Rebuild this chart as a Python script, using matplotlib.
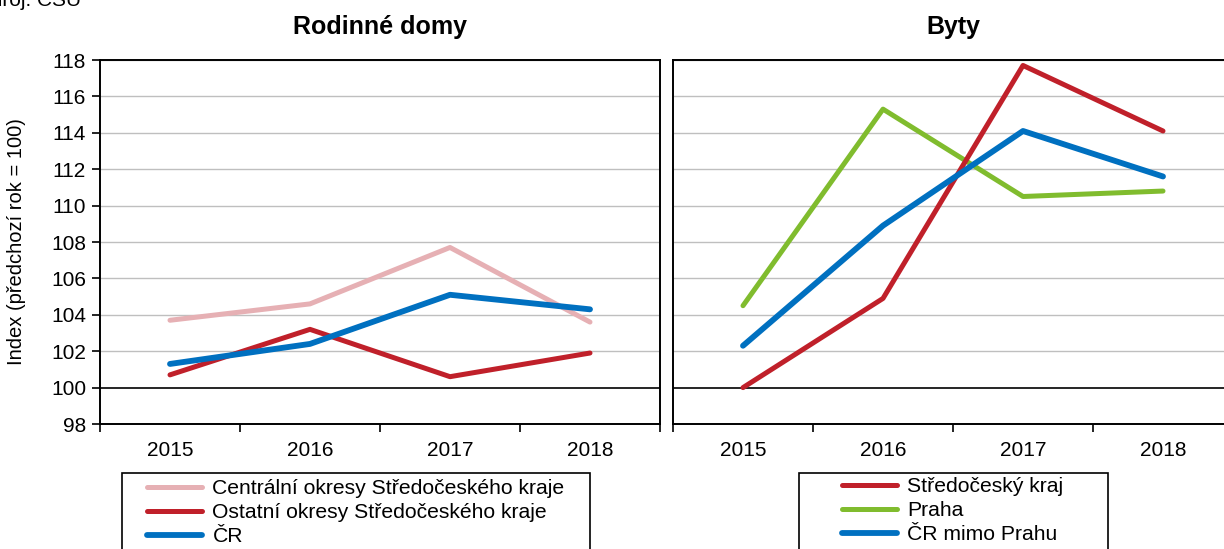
import matplotlib
matplotlib.use("Agg")
import matplotlib.pyplot as plt
from matplotlib.patches import Rectangle

plt.rcParams['font.family'] = ['Liberation Sans', 'DejaVu Sans']

years = ["2015", "2016", "2017", "2018"]

# Rodinné domy
centralni = [103.7, 104.6, 107.7, 103.6]
ostatni = [100.7, 103.2, 100.6, 101.9]
cr = [101.3, 102.4, 105.1, 104.3]

# Byty
stredocesky = [100.0, 104.9, 117.7, 114.1]
praha = [104.5, 115.3, 110.5, 110.8]
cr_mimo_prahu = [102.3, 108.9, 114.1, 111.6]

left_labels = ["Centrální okresy Středočeského kraje",
               "Ostatní okresy Středočeského kraje", "ČR"]
right_labels = ["Středočeský kraj", "Praha", "ČR mimo Prahu"]

C_PINK = "#E6B0B4"
C_RED = "#C0202A"
C_BLUE = "#0070C0"
C_GREEN = "#80BC2E"

W, H = 1224, 549
fig = plt.figure(figsize=(W / 100, H / 100), dpi=100)


def px(x0, y0, x1, y1):
    return [x0 / W, 1 - y1 / H, (x1 - x0) / W, (y1 - y0) / H]


ax1 = fig.add_axes(px(100, 60, 660, 424))
ax2 = fig.add_axes(px(673, 60, 1233, 424))

FS = 15


def style(ax, show_ylabels):
    ax.set_ylim(98, 118)
    ax.set_xlim(-0.5, 3.5)
    ax.set_yticks(range(98, 119, 2))
    for y in range(102, 119, 2):
        ax.axhline(y, color="#BFBFBF", lw=1.0, zorder=1)
    ax.axhline(100, color="black", lw=1.2, zorder=1)
    ax.set_xticks([-0.5, 0.5, 1.5, 2.5, 3.5])
    ax.set_xticklabels([])
    ax.set_xticks(range(4), minor=True)
    ax.set_xticklabels(years, minor=True, fontsize=FS)
    ax.tick_params(axis="x", which="major", length=6, width=1.2, direction="out")
    ax.tick_params(axis="x", which="minor", length=0, pad=12.5)
    if show_ylabels:
        ax.tick_params(axis="y", length=6, width=1.2, direction="out",
                       labelsize=FS, pad=4)
    else:
        ax.tick_params(axis="y", length=0, labelleft=False)
    for s in ax.spines.values():
        s.set_linewidth(1.4)


style(ax1, True)
style(ax2, False)

x = range(4)
lw = 3.6
l1, = ax1.plot(x, centralni, color=C_PINK, lw=lw, zorder=3, solid_capstyle="round")
l2, = ax1.plot(x, ostatni, color=C_RED, lw=lw, zorder=4, solid_capstyle="round")
l3, = ax1.plot(x, cr, color=C_BLUE, lw=lw + 0.6, zorder=5, solid_capstyle="round")

r1, = ax2.plot(x, stredocesky, color=C_RED, lw=lw, zorder=4, solid_capstyle="round")
r2, = ax2.plot(x, praha, color=C_GREEN, lw=lw, zorder=3, solid_capstyle="round")
r3, = ax2.plot(x, cr_mimo_prahu, color=C_BLUE, lw=lw + 0.6, zorder=5, solid_capstyle="round")

ax1.set_title("Rodinné domy", fontsize=18, fontweight="bold", pad=19)
ax2.set_title("Byty", fontsize=18, fontweight="bold", pad=19)
ax1.set_ylabel("Index (předchozí rok = 100)", fontsize=14.5, labelpad=18)

fig.text(-22 / W, 1 + 12 / H, "Zdroj: ČSÚ", fontsize=FS, ha="left", va="top")

# Legend boxes
fig.patches.append(Rectangle((122 / W, 1 - 560 / H), (590 - 122) / W, (560 - 473) / H,
                             transform=fig.transFigure, fill=False,
                             edgecolor="black", lw=1.2))
fig.patches.append(Rectangle((799 / W, 1 - 560 / H), (1108 - 799) / W, (560 - 473) / H,
                             transform=fig.transFigure, fill=False,
                             edgecolor="black", lw=1.2))

leg_kw = dict(frameon=False, fontsize=15.2, handlelength=2.6, handletextpad=0.5,
              labelspacing=0.24, borderpad=0, borderaxespad=0, loc="upper left")
fig.legend([l1, l2, l3], left_labels, bbox_to_anchor=(147 / W, 1 - 479 / H), **leg_kw)
fig.legend([r1, r2, r3], right_labels, bbox_to_anchor=(842 / W, 1 - 477 / H), **leg_kw)

fig.savefig("out.png", dpi=100)
